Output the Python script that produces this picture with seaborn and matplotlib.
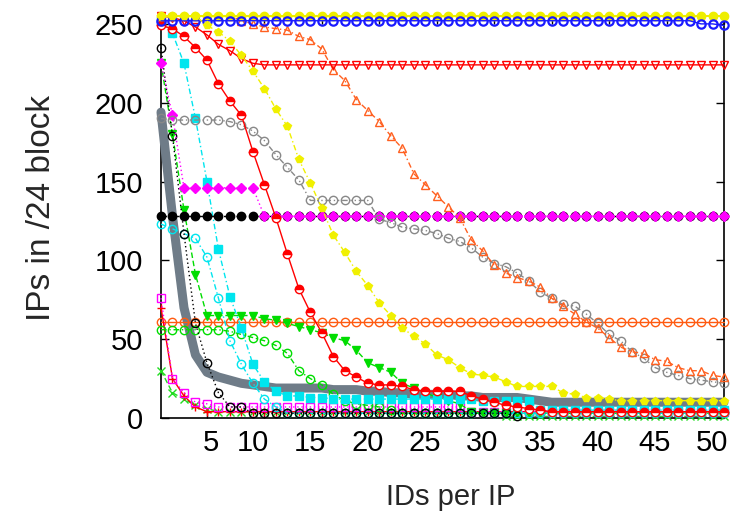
import matplotlib
matplotlib.use("Agg")
import matplotlib.pyplot as plt
import matplotlib.transforms as mtransforms
import seaborn as sns
import pandas as pd

sns.set_style("ticks")
plt.rcParams["font.family"] = ["Liberation Sans", "DejaVu Sans"]

# ---------------- data ----------------
x = list(range(1, 51))

gray_thick = [194, 128, 70, 40, 29, 26, 24, 22, 21, 20, 19, 19, 19, 19, 19, 18, 18, 18, 17, 17,
              16, 16, 15, 15, 15, 15, 14, 14, 13, 13, 13, 13, 12, 11, 10, 10, 10, 10, 10, 10,
              10, 10, 10, 10, 10, 10, 10, 10, 10, 10]
yellow_const = [255] * 50
blue_circ = [252] * 47 + [250, 250, 249]
yellow_drop = [255, 255, 255, 255, 249, 245, 239, 230, 220, 209, 196, 185, 164, 149, 133, 116, 105, 93, 84, 73,
               65, 57, 52, 47, 40, 37, 32, 28, 27, 26, 23, 20, 20, 20, 20, 16, 15, 13, 13, 12,
               11, 11, 11, 11, 11, 11, 11, 11, 11, 11]
red_tri = [255, 254, 252, 248, 243, 237, 233, 228, 225] + [224] * 41
orange_tri = [255, 255, 255, 255, 255, 255, 255, 252, 250, 248, 247, 246, 242, 240, 234, 221, 214, 202, 195, 188,
              179, 171, 155, 148, 141, 134, 127, 113, 106, 97, 92, 89, 87, 83, 76, 71, 66, 61, 57, 51,
              45, 42, 41, 37, 36, 32, 30, 30, 27, 26]
gray_circ = [190, 189, 189, 189, 189, 189, 188, 186, 182, 176, 167, 159, 151, 138, 138, 138, 138, 138, 138, 126,
             124, 121, 120, 119, 117, 114, 112, 108, 102, 98, 96, 92, 87, 80, 76, 72, 71, 66, 60, 53,
             49, 42, 38, 32, 29, 27, 25, 24, 23, 22]
black_dots = [128] * 50
magenta_diam = [225, 192] + [146] * 7 + [128] * 41
red_circ = [249, 247, 242, 235, 227, 212, 201, 192, 169, 148, 127, 104, 82, 67, 54, 39, 30, 26, 22, 21,
            21, 20, 18, 17, 17, 17, 17, 14, 12, 10, 8, 7, 6, 5] + [4] * 16
cyan_sq = [252, 244, 225, 190, 150, 107, 77, 57, 34, 23, 17, 14, 14, 13, 13] + [12] * 13 + [11] * 5 + [5] * 17
x_black_open = list(range(1, 33))
black_open = [235, 179, 117, 60, 35, 16, 7, 7] + [3] * 23 + [1]
cyan_circ = [123, 120, 117, 114, 102, 76, 49, 34, 22, 12, 7] + [3] * 39
green_tri = [225, 180, 132, 91, 65, 65, 65, 65, 65, 63, 62, 60, 58, 56, 54, 51, 49, 43, 35, 32,
             29, 22, 19, 16, 13, 11, 9, 4] + [3] * 22
green_circ = [56, 56, 56, 56, 56, 56, 55, 53, 51, 49, 46, 41, 30, 25, 21, 15, 11, 9, 8, 7, 5] + [3] * 29
orange_circ = [61] * 50
magenta_sq = [76, 25, 16, 10, 9] + [7] * 22 + [4] * 23
red_plus = [70, 25, 14, 7] + [4] * 46
green_x = [30, 16, 12, 8, 6] + [4] * 25 + [1] * 20
xtick_labels = ["5", "10", "15", "20", "25", "30", "35", "40", "45", "50"]
ytick_labels = ["0", "50", "100", "150", "200", "250"]

# ---------------- styles (drawing order) ----------------
DD = (0, (4, 2, 1, 2))      # dash-dot
DOT = (0, (1, 2))
DASH = (0, (4, 2))
DDD = (0, (4, 2, 1, 2, 1, 2))

series = [
    ("gray_thick", x, gray_thick, dict(color="#6f7c88", lw=6.5, marker=None, ls="-")),
    ("orange_circ", x, orange_circ, dict(color="#ff5a10", lw=1, marker="o", mfc="none", ls="-")),
    ("green_x", x, green_x, dict(color="#20dd20", lw=1, marker="x", ls=DASH)),
    ("red_plus", x, red_plus, dict(color="#ff0000", lw=1, marker="+", ls="-")),
    ("magenta_sq", x, magenta_sq, dict(color="#ff00ff", lw=1, marker="s", mfc="none", ls=DOT)),
    ("green_circ", x, green_circ, dict(color="#00dd00", lw=1, marker="o", mfc="none", ls=DD)),
    ("green_tri", x, green_tri, dict(color="#00dd00", lw=1, marker="v", ls=DASH)),
    ("cyan_circ", x, cyan_circ, dict(color="#00e5ee", lw=1, marker="o", mfc="none", ls=DD)),
    ("black_open", x_black_open, black_open, dict(color="#000000", lw=1, marker="o", mfc="none", ls=DOT)),
    ("cyan_sq", x, cyan_sq, dict(color="#00e5ee", lw=1, marker="s", ls=DD)),
    ("black_dots", x, black_dots, dict(color="#000000", lw=1, marker="o", ls=DD)),
    ("magenta_diam", x, magenta_diam, dict(color="#ff00ff", lw=1, marker="D", ls=DOT, ms=5)),
    ("gray_circ", x, gray_circ, dict(color="#888888", lw=1, marker="o", mfc="none", ls=DDD)),
    ("red_circ", x, red_circ, dict(color="#ff0000", lw=1, marker="o", ls="-", fill="top")),
    ("orange_tri", x, orange_tri, dict(color="#ff6020", lw=1, marker="^", mfc="none", ls=DD)),
    ("red_tri", x, red_tri, dict(color="#ff0000", lw=1, marker="v", mfc="none", ls="-")),
    ("yellow_const", x, yellow_const, dict(color="#eeee00", lw=1.5, marker="o", ls="-")),
    ("blue_circ", x, blue_circ, dict(color="#1a1aff", lw=1, marker="o", mfc="none", ls="-", mew=1.6)),
    ("yellow_drop", x, yellow_drop, dict(color="#f0f000", lw=1, marker="p", ls=DD)),
]

fig = plt.figure(figsize=(7.49, 5.17), dpi=100)
ax = fig.add_axes([161 / 749, 1 - 418 / 517, (724 - 161) / 749, (418 - 16) / 517])

for i, (name, xs, ys, st) in enumerate(series):
    df = pd.DataFrame({"x": xs, "y": ys})
    kw = dict(color=st["color"], lw=st["lw"], linestyle=st["ls"])
    if st["marker"] is not None:
        kw.update(marker=st["marker"], ms=st.get("ms", 6), mew=st.get("mew", 1.0),
                  mec=st["color"], mfc=st.get("mfc", st["color"]))
        if "fill" in st:
            kw.update(fillstyle=st["fill"], markerfacecoloralt="white")
    sns.lineplot(data=df, x="x", y="y", ax=ax, estimator=None, sort=False,
                 clip_on=False, zorder=2 + i, **kw)

ax.set_xlim(1, 50)
ax.set_ylim(0, 255)
ax.set_xticks([int(t) for t in xtick_labels])
ax.set_xticklabels(xtick_labels)
ax.set_yticks([int(t) for t in ytick_labels])
ax.set_yticklabels(ytick_labels)
ax.tick_params(axis="both", direction="in", top=True, right=True, length=6, width=1,
               labelsize=21, colors="black")
ax.tick_params(axis="y", pad=13)
ax.tick_params(axis="x", pad=8)
for s in ax.spines.values():
    s.set_linewidth(1.2)
    s.set_color("black")
    s.set_zorder(1)

# gnuplot-like placement of the x tick labels (two-digit labels sit left of their tick)
for lab in ax.get_xticklabels():
    dx = 0.04 if len(lab.get_text()) == 1 else -0.12
    lab.set_transform(lab.get_transform() + mtransforms.ScaledTranslation(dx, 0, fig.dpi_scale_trans))

ax.set_xlabel("IDs per IP", fontsize=21)
ax.xaxis.set_label_coords((451 - 161) / 563, (418 - 497) / 402)
ax.xaxis.label.set_va("center")
ax.set_ylabel("IPs in /24 block", fontsize=24)
ax.yaxis.set_label_coords((42 - 161) / 563, (418 - 208) / 402)
ax.yaxis.label.set_va("center")

fig.savefig("out.png", dpi=100)
